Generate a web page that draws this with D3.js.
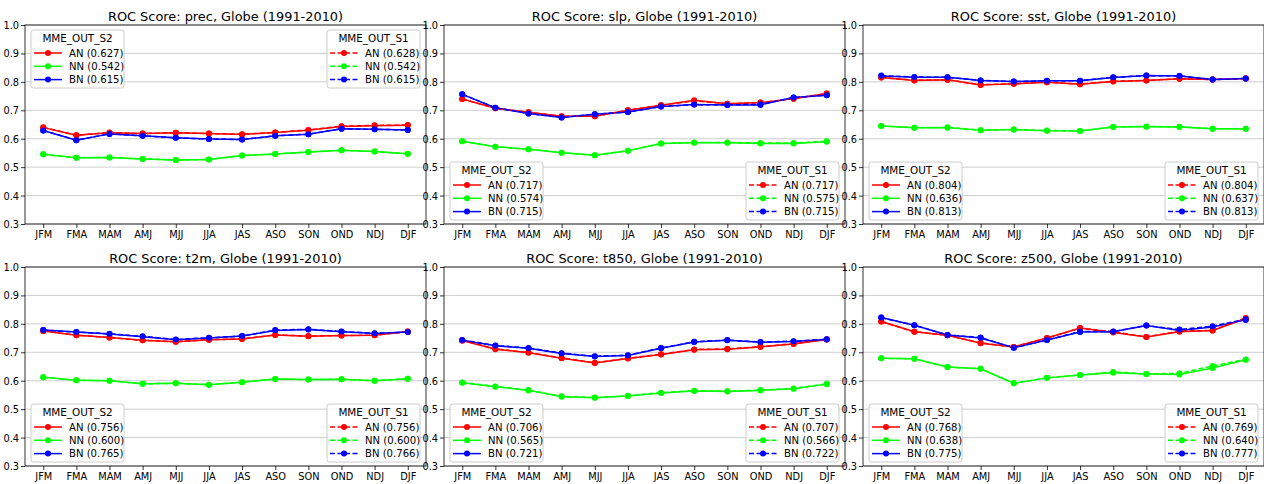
<!DOCTYPE html>
<html lang="en">
<head>
<meta charset="UTF-8">
<script src="https://d3js.org/d3.v7.min.js"></script>
<style>
    body { margin: 0; background: #fff; font-family: "DejaVu Sans", sans-serif; }
    svg { display: block; }
    .title { font-size: 12.9px; text-anchor: middle; fill: #000; }
    .tick text { font-family: "DejaVu Sans", sans-serif; font-size: 9.8px; fill: #000; }
    .tick line { stroke: #000; stroke-width: 0.8px; }
    .grid { stroke: #cfcfcf; stroke-width: 1px; }
    .frame { fill: none; stroke: #000; stroke-width: 0.8px; }
    .leg-title { font-size: 10.4px; text-anchor: middle; }
    .leg-text { font-size: 10.1px; }
</style>
</head>
<body>
<svg id="chart"></svg>
<script>
// categories and tick labels
const months = ["JFM", "FMA", "MAM", "AMJ", "MJJ", "JJA", "JAS", "ASO", "SON", "OND", "NDJ", "DJF"];
const yTicks = [0.3, 0.4, 0.5, 0.6, 0.7, 0.8, 0.9, 1.0];
const cats = ["AN", "NN", "BN"];
const catColors = ["#ff0000", "#00ff00", "#0000ff"];

// prec
const prec_AN_S2 = [0.639, 0.612, 0.621, 0.618, 0.621, 0.618, 0.615, 0.622, 0.630, 0.643, 0.646, 0.647];
const prec_NN_S2 = [0.545, 0.533, 0.534, 0.529, 0.525, 0.527, 0.541, 0.546, 0.553, 0.559, 0.555, 0.547];
const prec_BN_S2 = [0.629, 0.595, 0.617, 0.610, 0.603, 0.599, 0.597, 0.610, 0.616, 0.635, 0.633, 0.631];
const prec_AN_S1 = [0.640, 0.612, 0.622, 0.618, 0.621, 0.618, 0.616, 0.622, 0.631, 0.644, 0.647, 0.648];
const prec_NN_S1 = [0.545, 0.533, 0.534, 0.529, 0.525, 0.527, 0.541, 0.546, 0.553, 0.559, 0.555, 0.547];
const prec_BN_S1 = [0.629, 0.595, 0.617, 0.610, 0.603, 0.599, 0.597, 0.610, 0.616, 0.635, 0.633, 0.631];
const prec_leg_S2 = ["0.627", "0.542", "0.615"];
const prec_leg_S1 = ["0.628", "0.542", "0.615"];

// slp
const slp_AN_S2 = [0.740, 0.707, 0.693, 0.679, 0.679, 0.700, 0.718, 0.735, 0.723, 0.727, 0.741, 0.759];
const slp_NN_S2 = [0.591, 0.572, 0.563, 0.551, 0.542, 0.558, 0.583, 0.586, 0.586, 0.583, 0.583, 0.589];
const slp_BN_S2 = [0.756, 0.709, 0.689, 0.675, 0.686, 0.694, 0.713, 0.720, 0.719, 0.719, 0.745, 0.753];
const slp_AN_S1 = [0.740, 0.707, 0.693, 0.679, 0.679, 0.700, 0.718, 0.733, 0.723, 0.727, 0.741, 0.759];
const slp_NN_S1 = [0.591, 0.572, 0.563, 0.551, 0.542, 0.558, 0.583, 0.587, 0.587, 0.585, 0.585, 0.591];
const slp_BN_S1 = [0.756, 0.709, 0.689, 0.675, 0.686, 0.694, 0.713, 0.720, 0.719, 0.721, 0.745, 0.753];
const slp_leg_S2 = ["0.717", "0.574", "0.715"];
const slp_leg_S1 = ["0.717", "0.575", "0.715"];

// sst
const sst_AN_S2 = [0.815, 0.805, 0.807, 0.789, 0.793, 0.799, 0.792, 0.801, 0.805, 0.811, 0.808, 0.812];
const sst_NN_S2 = [0.645, 0.639, 0.639, 0.630, 0.632, 0.628, 0.627, 0.641, 0.642, 0.641, 0.635, 0.635];
const sst_BN_S2 = [0.821, 0.816, 0.816, 0.805, 0.801, 0.804, 0.804, 0.815, 0.822, 0.821, 0.808, 0.812];
const sst_AN_S1 = [0.815, 0.806, 0.807, 0.790, 0.793, 0.799, 0.792, 0.802, 0.805, 0.811, 0.808, 0.812];
const sst_NN_S1 = [0.645, 0.639, 0.640, 0.630, 0.632, 0.629, 0.627, 0.642, 0.643, 0.642, 0.635, 0.635];
const sst_BN_S1 = [0.822, 0.817, 0.816, 0.805, 0.801, 0.804, 0.804, 0.816, 0.822, 0.821, 0.808, 0.812];
const sst_leg_S2 = ["0.804", "0.636", "0.813"];
const sst_leg_S1 = ["0.804", "0.637", "0.813"];

// t2m
const t2m_AN_S2 = [0.775, 0.760, 0.752, 0.742, 0.737, 0.744, 0.747, 0.761, 0.756, 0.759, 0.760, 0.773];
const t2m_NN_S2 = [0.612, 0.602, 0.600, 0.589, 0.591, 0.586, 0.595, 0.606, 0.604, 0.605, 0.600, 0.607];
const t2m_BN_S2 = [0.778, 0.771, 0.764, 0.755, 0.744, 0.750, 0.757, 0.777, 0.780, 0.772, 0.766, 0.771];
const t2m_AN_S1 = [0.775, 0.760, 0.752, 0.742, 0.737, 0.744, 0.747, 0.761, 0.757, 0.759, 0.760, 0.773];
const t2m_NN_S1 = [0.612, 0.602, 0.600, 0.589, 0.591, 0.586, 0.595, 0.606, 0.604, 0.605, 0.600, 0.607];
const t2m_BN_S1 = [0.778, 0.771, 0.765, 0.756, 0.745, 0.751, 0.757, 0.778, 0.781, 0.773, 0.767, 0.771];
const t2m_leg_S2 = ["0.756", "0.600", "0.765"];
const t2m_leg_S1 = ["0.756", "0.600", "0.766"];

// t850
const t850_AN_S2 = [0.741, 0.711, 0.698, 0.679, 0.662, 0.678, 0.692, 0.709, 0.711, 0.719, 0.729, 0.745];
const t850_NN_S2 = [0.593, 0.579, 0.566, 0.544, 0.540, 0.546, 0.557, 0.564, 0.562, 0.566, 0.572, 0.588];
const t850_BN_S2 = [0.742, 0.723, 0.714, 0.696, 0.685, 0.689, 0.714, 0.736, 0.742, 0.735, 0.738, 0.745];
const t850_AN_S1 = [0.742, 0.712, 0.699, 0.680, 0.663, 0.679, 0.693, 0.710, 0.712, 0.720, 0.730, 0.746];
const t850_NN_S1 = [0.594, 0.580, 0.567, 0.545, 0.541, 0.547, 0.558, 0.565, 0.563, 0.567, 0.573, 0.589];
const t850_BN_S1 = [0.743, 0.724, 0.715, 0.697, 0.686, 0.690, 0.715, 0.737, 0.743, 0.736, 0.739, 0.746];
const t850_leg_S2 = ["0.706", "0.565", "0.721"];
const t850_leg_S1 = ["0.707", "0.566", "0.722"];

// z500
const z500_AN_S2 = [0.808, 0.772, 0.760, 0.732, 0.719, 0.750, 0.785, 0.770, 0.754, 0.772, 0.777, 0.819];
const z500_NN_S2 = [0.679, 0.677, 0.648, 0.642, 0.591, 0.610, 0.620, 0.628, 0.624, 0.622, 0.645, 0.674];
const z500_BN_S2 = [0.822, 0.795, 0.761, 0.750, 0.716, 0.743, 0.771, 0.772, 0.794, 0.777, 0.789, 0.814];
const z500_AN_S1 = [0.808, 0.772, 0.760, 0.733, 0.719, 0.750, 0.785, 0.772, 0.754, 0.774, 0.777, 0.821];
const z500_NN_S1 = [0.679, 0.677, 0.648, 0.642, 0.591, 0.610, 0.620, 0.631, 0.624, 0.626, 0.652, 0.675];
const z500_BN_S1 = [0.822, 0.795, 0.761, 0.752, 0.716, 0.743, 0.773, 0.773, 0.794, 0.780, 0.792, 0.816];
const z500_leg_S2 = ["0.768", "0.638", "0.775"];
const z500_leg_S1 = ["0.769", "0.640", "0.777"];

const panels = [
    {name: "prec", S2: [prec_AN_S2, prec_NN_S2, prec_BN_S2], S1: [prec_AN_S1, prec_NN_S1, prec_BN_S1], legS2: prec_leg_S2, legS1: prec_leg_S1, legTop: true},
    {name: "slp", S2: [slp_AN_S2, slp_NN_S2, slp_BN_S2], S1: [slp_AN_S1, slp_NN_S1, slp_BN_S1], legS2: slp_leg_S2, legS1: slp_leg_S1, legTop: false},
    {name: "sst", S2: [sst_AN_S2, sst_NN_S2, sst_BN_S2], S1: [sst_AN_S1, sst_NN_S1, sst_BN_S1], legS2: sst_leg_S2, legS1: sst_leg_S1, legTop: false},
    {name: "t2m", S2: [t2m_AN_S2, t2m_NN_S2, t2m_BN_S2], S1: [t2m_AN_S1, t2m_NN_S1, t2m_BN_S1], legS2: t2m_leg_S2, legS1: t2m_leg_S1, legTop: false},
    {name: "t850", S2: [t850_AN_S2, t850_NN_S2, t850_BN_S2], S1: [t850_AN_S1, t850_NN_S1, t850_BN_S1], legS2: t850_leg_S2, legS1: t850_leg_S1, legTop: false},
    {name: "z500", S2: [z500_AN_S2, z500_NN_S2, z500_BN_S2], S1: [z500_AN_S1, z500_NN_S1, z500_BN_S1], legS2: z500_leg_S2, legS1: z500_leg_S1, legTop: false}
];

const W = 1264, H = 484;
const lefts = [25, 444, 863], tops = [25, 267];
const pw = 401, ph = 199;

const svg = d3.select("#chart").attr("width", W).attr("height", H);

panels.forEach((p, i) => {
    const left = lefts[i % 3], top = tops[Math.floor(i / 3)];
    const g = svg.append("g");

    const x = d3.scalePoint().domain(months).range([left, left + pw]).padding(0.55);
    const y = d3.scaleLinear().domain([0.3, 1.0]).range([top + ph, top]);

    // grid
    g.selectAll(".grid").data(yTicks).enter().append("line")
        .attr("class", "grid")
        .attr("x1", left).attr("x2", left + pw)
        .attr("y1", d => y(d)).attr("y2", d => y(d));

    // axes
    const ya = g.append("g").attr("transform", `translate(${left},0)`)
        .call(d3.axisLeft(y).tickValues(yTicks).tickFormat(d3.format(".1f")).tickSize(4).tickPadding(2).tickSizeOuter(0));
    ya.select(".domain").remove();
    ya.selectAll("text").attr("dy", "0.36em");
    const xa = g.append("g").attr("transform", `translate(0,${top + ph})`)
        .call(d3.axisBottom(x).tickSize(4).tickPadding(3).tickSizeOuter(0));
    xa.select(".domain").remove();
    ya.attr("font-size", null).attr("font-family", null);
    xa.attr("font-size", null).attr("font-family", null);

    g.append("rect").attr("class", "frame")
        .attr("x", left).attr("y", top).attr("width", pw).attr("height", ph);

    g.append("text").attr("class", "title")
        .attr("x", left + pw / 2).attr("y", top - 4.5)
        .text(`ROC Score: ${p.name}, Globe (1991-2010)`);

    const line = d3.line().x((d, j) => x(months[j])).y(d => y(d));

    // S2 solid, then S1 dashed
    [["S2", null], ["S1", "5,2.5"]].forEach(([key, dash]) => {
        p[key].forEach((vals, k) => {
            g.append("path").datum(vals)
                .attr("d", line)
                .attr("fill", "none")
                .attr("stroke", catColors[k])
                .attr("stroke-width", 1.5)
                .attr("stroke-dasharray", dash);
            g.selectAll(null).data(vals).enter().append("circle")
                .attr("cx", (d, j) => x(months[j]))
                .attr("cy", d => y(d))
                .attr("r", 3)
                .attr("fill", catColors[k]);
        });
    });

    // legends
    const lw = 93, lh = 58, inset = 6;
    const ly = p.legTop ? top + 5 : top + ph - 4 - lh;
    const legends = [
        {title: "MME_OUT_S2", labels: p.legS2, dash: null, lx: left + inset},
        {title: "MME_OUT_S1", labels: p.legS1, dash: "5,2.5", lx: left + pw - inset - lw}
    ];
    legends.forEach(L => {
        const lg = g.append("g").attr("transform", `translate(${L.lx},${ly})`);
        lg.append("rect").attr("width", lw).attr("height", lh).attr("rx", 2.5)
            .attr("fill", "#fff").attr("fill-opacity", 0.85)
            .attr("stroke", "#cccccc").attr("stroke-width", 1);
        lg.append("text").attr("class", "leg-title")
            .attr("x", lw / 2).attr("y", 11.8).text(L.title);
        cats.forEach((c, k) => {
            const ey = 23 + k * 13.3;
            lg.append("line").attr("x1", 3).attr("x2", 31).attr("y1", ey).attr("y2", ey)
                .attr("stroke", catColors[k]).attr("stroke-width", 1.5)
                .attr("stroke-dasharray", L.dash);
            lg.append("circle").attr("cx", 17).attr("cy", ey).attr("r", 3).attr("fill", catColors[k]);
            lg.append("text").attr("class", "leg-text")
                .attr("x", 38).attr("y", ey + 3.6)
                .text(`${c} (${L.labels[k]})`);
        });
    });
});
</script>
</body>
</html>
